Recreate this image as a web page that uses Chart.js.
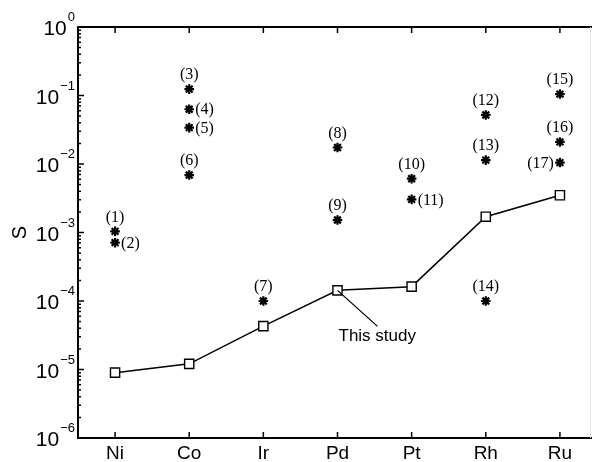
<!DOCTYPE html>
<html>
<head>
<meta charset="utf-8">
<script src="https://cdn.jsdelivr.net/npm/chart.js@4/dist/chart.umd.min.js"></script>
<style>
html,body{margin:0;padding:0;background:#fff;overflow:hidden;}
canvas{display:block;}
</style>
</head>
<body>
<canvas id="c" width="592" height="462"></canvas>
<script>
// ---- data ----
const categories = ['Ni', 'Co', 'Ir', 'Pd', 'Pt', 'Rh', 'Ru'];
const thisStudy = [9.0e-6, 1.21e-5, 4.3e-5, 1.43e-4, 1.62e-4, 1.7e-3, 3.5e-3];
const litCategory = ['Ni', 'Ni', 'Co', 'Co', 'Co', 'Co', 'Ir', 'Pd', 'Pd', 'Pt', 'Pt', 'Rh', 'Rh', 'Rh', 'Ru', 'Ru', 'Ru'];
const litValues = [1.04e-3, 7.1e-4, 0.124, 0.063, 0.034, 6.9e-3, 1.0e-4, 0.0174, 1.52e-3, 6.1e-3, 3.05e-3, 0.052, 0.0114, 1.0e-4, 0.105, 0.021, 0.0105];
const litLabels = ['(1)', '(2)', '(3)', '(4)', '(5)', '(6)', '(7)', '(8)', '(9)', '(10)', '(11)', '(12)', '(13)', '(14)', '(15)', '(16)', '(17)'];
const yTicks = [1e-6, 1e-5, 1e-4, 1e-3, 1e-2, 1e-1, 1];
const yTitle = 'S';
const annotationText = 'This study';

// label placement (style only)
const rightLabels = new Set(['(2)', '(4)', '(5)', '(11)']);
const leftLabels = new Set(['(17)']);

const studyPts = thisStudy.map((v, i) => ({x: i + 1, y: v}));
const litPts = litValues.map((v, i) => ({x: categories.indexOf(litCategory[i]) + 1, y: v}));

const LEFT = 78, TOP = 27, BOTTOM_PAD = 24, UNIT = 74.2;
const AREA_RIGHT = 584.5;
const xMax = 0.5 + (AREA_RIGHT - LEFT) / UNIT;

const drawPlugin = {
  id: 'matlabAxes',
  afterDraw(chart) {
    const ctx = chart.ctx;
    const a = chart.chartArea;
    const xs = chart.scales.x, ys = chart.scales.y;
    const W = chart.width;
    ctx.save();
    // axes frame
    ctx.strokeStyle = '#000';
    ctx.lineWidth = 2;
    ctx.beginPath();
    ctx.moveTo(a.left, a.top); ctx.lineTo(W, a.top);
    ctx.moveTo(a.left, a.top - 1); ctx.lineTo(a.left, a.bottom + 1);
    ctx.moveTo(a.left, a.bottom); ctx.lineTo(W, a.bottom);
    ctx.stroke();
    ctx.strokeStyle = '#e4e4e4';
    ctx.lineWidth = 1;
    ctx.beginPath();
    ctx.moveTo(W - 1.5, a.top); ctx.lineTo(W - 1.5, a.bottom);
    ctx.stroke();

    // y ticks
    ctx.strokeStyle = '#000';
    ctx.lineWidth = 1.5;
    ctx.beginPath();
    for (let e = -6; e <= 0; e++) {
      const y = ys.getPixelForValue(Math.pow(10, e));
      ctx.moveTo(a.left, y); ctx.lineTo(a.left + 6, y);
      if (e < 0) {
        for (let m = 2; m <= 9; m++) {
          const ym = ys.getPixelForValue(m * Math.pow(10, e));
          ctx.moveTo(a.left, ym); ctx.lineTo(a.left + 3, ym);
        }
      }
    }
    // x ticks
    categories.forEach((c, i) => {
      const x = xs.getPixelForValue(i + 1);
      ctx.moveTo(x, a.bottom); ctx.lineTo(x, a.bottom - 6);
      ctx.moveTo(x, a.top); ctx.lineTo(x, a.top + 6);
    });
    ctx.stroke();

    // y tick labels (10^e)
    ctx.fillStyle = '#000';
    ctx.textBaseline = 'alphabetic';
    yTicks.forEach(v => {
      const e = Math.round(Math.log10(v));
      const y = ys.getPixelForValue(v);
      const expStr = e === 0 ? '0' : '\u2212' + Math.abs(e);
      ctx.font = '13px "Liberation Sans", Arial, sans-serif';
      const ew = ctx.measureText(expStr).width;
      ctx.textAlign = 'right';
      ctx.fillText(expStr, a.left - 3, y - 6);
      ctx.font = '21px "Liberation Sans", Arial, sans-serif';
      ctx.fillText('10', a.left - 3 - ew - 1, y + 8);
    });

    // x tick labels
    ctx.font = '19px "Liberation Sans", Arial, sans-serif';
    ctx.textAlign = 'center';
    ctx.textBaseline = 'middle';
    categories.forEach((c, i) => {
      ctx.fillText(c, xs.getPixelForValue(i + 1), a.bottom + 16);
    });

    // y title
    ctx.save();
    ctx.translate(20, ys.getPixelForValue(1e-3));
    ctx.rotate(-Math.PI / 2);
    ctx.font = '20px "Liberation Sans", Arial, sans-serif';
    ctx.textAlign = 'center';
    ctx.textBaseline = 'middle';
    ctx.fillText(yTitle, 0, 0);
    ctx.restore();

    // data labels
    ctx.font = '16px "Liberation Serif", "Times New Roman", serif';
    ctx.textBaseline = 'middle';
    litPts.forEach((p, i) => {
      const px = xs.getPixelForValue(p.x), py = ys.getPixelForValue(p.y);
      const lab = litLabels[i];
      if (rightLabels.has(lab)) {
        ctx.textAlign = 'left';
        ctx.fillText(lab, px + 6, py + 1);
      } else if (leftLabels.has(lab)) {
        ctx.textAlign = 'right';
        ctx.fillText(lab, px - 6, py + 1);
      } else {
        ctx.textAlign = 'center';
        ctx.fillText(lab, px, py - 14);
      }
    });

    // annotation
    const pdx = xs.getPixelForValue(4), pdy = ys.getPixelForValue(thisStudy[3]);
    ctx.strokeStyle = '#000';
    ctx.lineWidth = 1.3;
    ctx.beginPath();
    ctx.moveTo(pdx, pdy);
    ctx.lineTo(pdx + 40, pdy + 36);
    ctx.stroke();
    ctx.font = '17px "Liberation Sans", Arial, sans-serif';
    ctx.textAlign = 'left';
    ctx.textBaseline = 'middle';
    ctx.fillText(annotationText, pdx + 1, pdy + 46);
    ctx.restore();
  }
};

new Chart(document.getElementById('c'), {
  type: 'scatter',
  data: {
    datasets: [
      {
        label: 'This study',
        data: studyPts,
        showLine: true,
        borderColor: '#000',
        borderWidth: 1.5,
        pointStyle: 'rect',
        pointRadius: 6.5,
        pointBorderWidth: 1.4,
        pointBackgroundColor: '#fff',
        pointBorderColor: '#000',
        order: 2
      },
      {
        label: 'Literature',
        data: litPts,
        showLine: false,
        pointStyle: 'star',
        pointRadius: 4.8,
        pointBorderWidth: 2.2,
        pointBorderColor: '#000',
        pointBackgroundColor: '#000',
        order: 1
      }
    ]
  },
  options: {
    responsive: false,
    animation: false,
    events: [],
    layout: { padding: { left: LEFT, top: TOP, right: 0, bottom: BOTTOM_PAD } },
    plugins: { legend: { display: false }, tooltip: { enabled: false } },
    scales: {
      x: { type: 'linear', min: 0.5, max: xMax, display: false },
      y: { type: 'logarithmic', min: 1e-6, max: 1, display: false }
    }
  },
  plugins: [drawPlugin]
});
</script>
</body>
</html>
